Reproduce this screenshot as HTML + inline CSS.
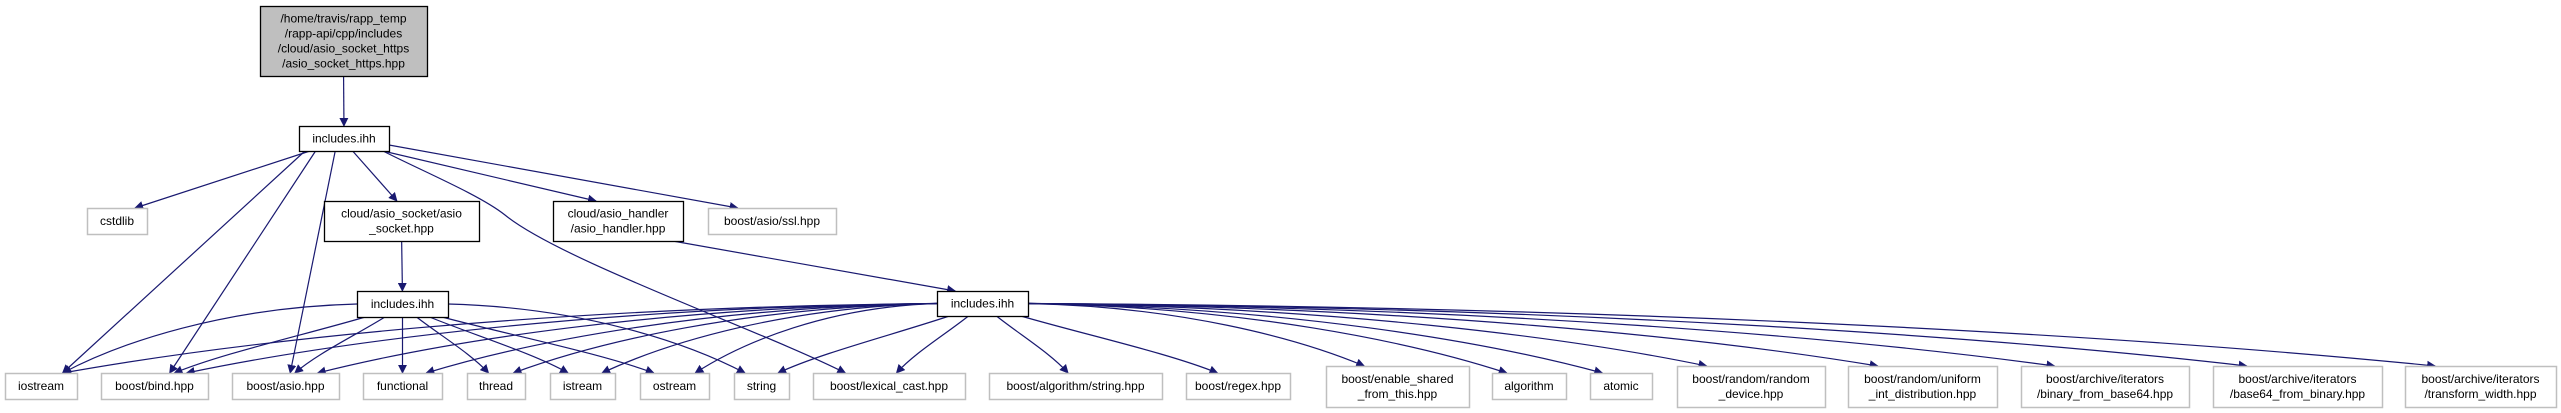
<!DOCTYPE html>
<html><head><meta charset="utf-8">
<style>
html,body{margin:0;padding:0;background:#fff;}
svg{display:block;}
text{font-family:"Liberation Sans",sans-serif;font-size:12px;fill:#000;}
</style></head>
<body>
<svg id="g" width="2561" height="413" viewBox="0 0 2561 413">
<defs><marker id="ah" viewBox="0 0 10 10" refX="9" refY="5" markerWidth="9" markerHeight="9" markerUnits="userSpaceOnUse" orient="auto"><path d="M0,0 L10,5 L0,10 z" fill="#191970"/></marker></defs>
<g id="edges"></g><g id="nodes"></g>
</svg>
<script>
const nodeIds=["top","inc1","cstdlib","sock","handler","ssl","inc2","inc3","iostream","bind","asio","functional","thread","istream","ostream","string","lexical","algostr","regex","enable","algorithm","atomic","randdev","uniform","binfrom","b64from","transform"];
const nodeLabels=[["/home/travis/rapp_temp","/rapp-api/cpp/includes","/cloud/asio_socket_https","/asio_socket_https.hpp"],["includes.ihh"],["cstdlib"],["cloud/asio_socket/asio","_socket.hpp"],["cloud/asio_handler","/asio_handler.hpp"],["boost/asio/ssl.hpp"],["includes.ihh"],["includes.ihh"],["iostream"],["boost/bind.hpp"],["boost/asio.hpp"],["functional"],["thread"],["istream"],["ostream"],["string"],["boost/lexical_cast.hpp"],["boost/algorithm/string.hpp"],["boost/regex.hpp"],["boost/enable_shared","_from_this.hpp"],["algorithm"],["atomic"],["boost/random/random","_device.hpp"],["boost/random/uniform","_int_distribution.hpp"],["boost/archive/iterators","/binary_from_base64.hpp"],["boost/archive/iterators","/base64_from_binary.hpp"],["boost/archive/iterators","/transform_width.hpp"]];
const nodeBoxes=[[260,6,167,70],[299,126,90,25],[87,208,60,26],[324,201,155,40],[553,201,130,40],[708,208,128,26],[357,291,91,26],[937,291,91,25],[5,373,72,26],[101,373,107,26],[232,373,107,26],[363,373,79,26],[467,373,58,26],[550,373,65,26],[640,373,69,26],[734,373,55,26],[813,373,152,26],[989,373,173,26],[1186,373,104,26],[1326,366,143,41],[1492,373,74,26],[1590,373,62,26],[1677,366,148,41],[1848,366,149,41],[2021,366,168,41],[2213,366,169,41],[2405,366,151,41]];
const nodeKinds=["main","doc","ext","doc","doc","ext","doc","doc","ext","ext","ext","ext","ext","ext","ext","ext","ext","ext","ext","ext","ext","ext","ext","ext","ext","ext","ext"];
const edgeFrom=["top","inc1","inc1","inc1","inc1","inc1","inc1","inc1","inc1","sock","handler","inc2","inc2","inc2","inc2","inc2","inc2","inc2","inc2","inc3","inc3","inc3","inc3","inc3","inc3","inc3","inc3","inc3","inc3","inc3","inc3","inc3","inc3","inc3","inc3","inc3","inc3","inc3"];
const edgeTo=["inc1","cstdlib","iostream","bind","asio","sock","handler","ssl","lexical","inc2","inc3","iostream","bind","asio","functional","thread","istream","ostream","string","iostream","bind","asio","functional","thread","istream","ostream","string","lexical","algostr","regex","enable","algorithm","atomic","randdev","uniform","binfrom","b64from","transform"];
const NS="http://www.w3.org/2000/svg";
const idx=id=>nodeIds.indexOf(id);
const eg=document.getElementById('edges'),ng=document.getElementById('nodes');
function box(id){const b=nodeBoxes[idx(id)];return {x:b[0],y:b[1],w:b[2],h:b[3],cx:b[0]+b[2]/2,cy:b[1]+b[3]/2};}
for(let i=0;i<edgeFrom.length;i++){
  const f=edgeFrom[i],s=box(f),t=box(edgeTo[i]);
  const dx=t.cx-s.cx, sg=dx>0?1:-1;
  let sx,sy,d;
  const ex=t.cx-sg*Math.min(t.w*0.3,Math.abs(dx)*0.08), ey=t.y;
  const side=(f==='inc2'||f==='inc3')&&Math.abs(dx)>3.5*(t.y-s.y);
  if(f==='inc1'&&edgeTo[i]==='ssl'){sx=s.x+s.w;sy=s.y+s.h-6;}
  else if(side){sx=dx>0?s.x+s.w:s.x;sy=s.cy;}
  else{sx=s.cx+Math.max(-s.w/2+6,Math.min(s.w/2-6,dx*0.15));sy=s.y+s.h;}
  const ddx=ex-sx,ddy=ey-sy;
  if(f==='inc1'&&edgeTo[i]==='lexical'){
    d=`M${sx},${sy} C420,170 480,195 505,215 C560,260 760,330 ${ex},${ey}`;
  } else if(side){
    d=`M${sx},${sy} C${sx+ddx*0.45},${sy+ddy*0.05} ${ex-ddx*0.2},${ey-ddy*0.45} ${ex},${ey}`;
  } else if(f==='inc1'||f==='handler'||f==='top'||f==='sock'){
    d=`M${sx},${sy} L${ex},${ey}`;
  } else {
    d=`M${sx},${sy} C${sx+ddx*0.33},${sy+ddy*0.33} ${ex-ddx*0.25},${ey-ddy*0.35} ${ex},${ey}`;
  }
  const p=document.createElementNS(NS,'path');
  p.setAttribute('d',d);p.setAttribute('fill','none');p.setAttribute('stroke','#191970');p.setAttribute('stroke-width','1.2');p.setAttribute('marker-end','url(#ah)');
  
  
  eg.appendChild(p);
}
for(let i=0;i<nodeIds.length;i++){
  const b=nodeBoxes[i],k=nodeKinds[i];
  const g=document.createElementNS(NS,'g');
  
  
  const r=document.createElementNS(NS,'rect');
  r.setAttribute('x',b[0]+0.5);r.setAttribute('y',b[1]+0.5);r.setAttribute('width',b[2]);r.setAttribute('height',b[3]);
  r.setAttribute('fill',k==='main'?'#bfbfbf':'#fff');
  r.setAttribute('stroke',k==='ext'?'#bfbfbf':'#000');r.setAttribute('stroke-width',k==='ext'?'1.5':'1.3');
  g.appendChild(r);
  const L=nodeLabels[i],lh=15,y0=b[1]+b[3]/2-(L.length-1)*lh/2+4;
  L.forEach((s,j)=>{const t=document.createElementNS(NS,'text');t.setAttribute('x',b[0]+b[2]/2);t.setAttribute('y',y0+j*lh);t.setAttribute('text-anchor','middle');t.textContent=s;g.appendChild(t);});
  ng.appendChild(g);
}
</script>
</body></html>
